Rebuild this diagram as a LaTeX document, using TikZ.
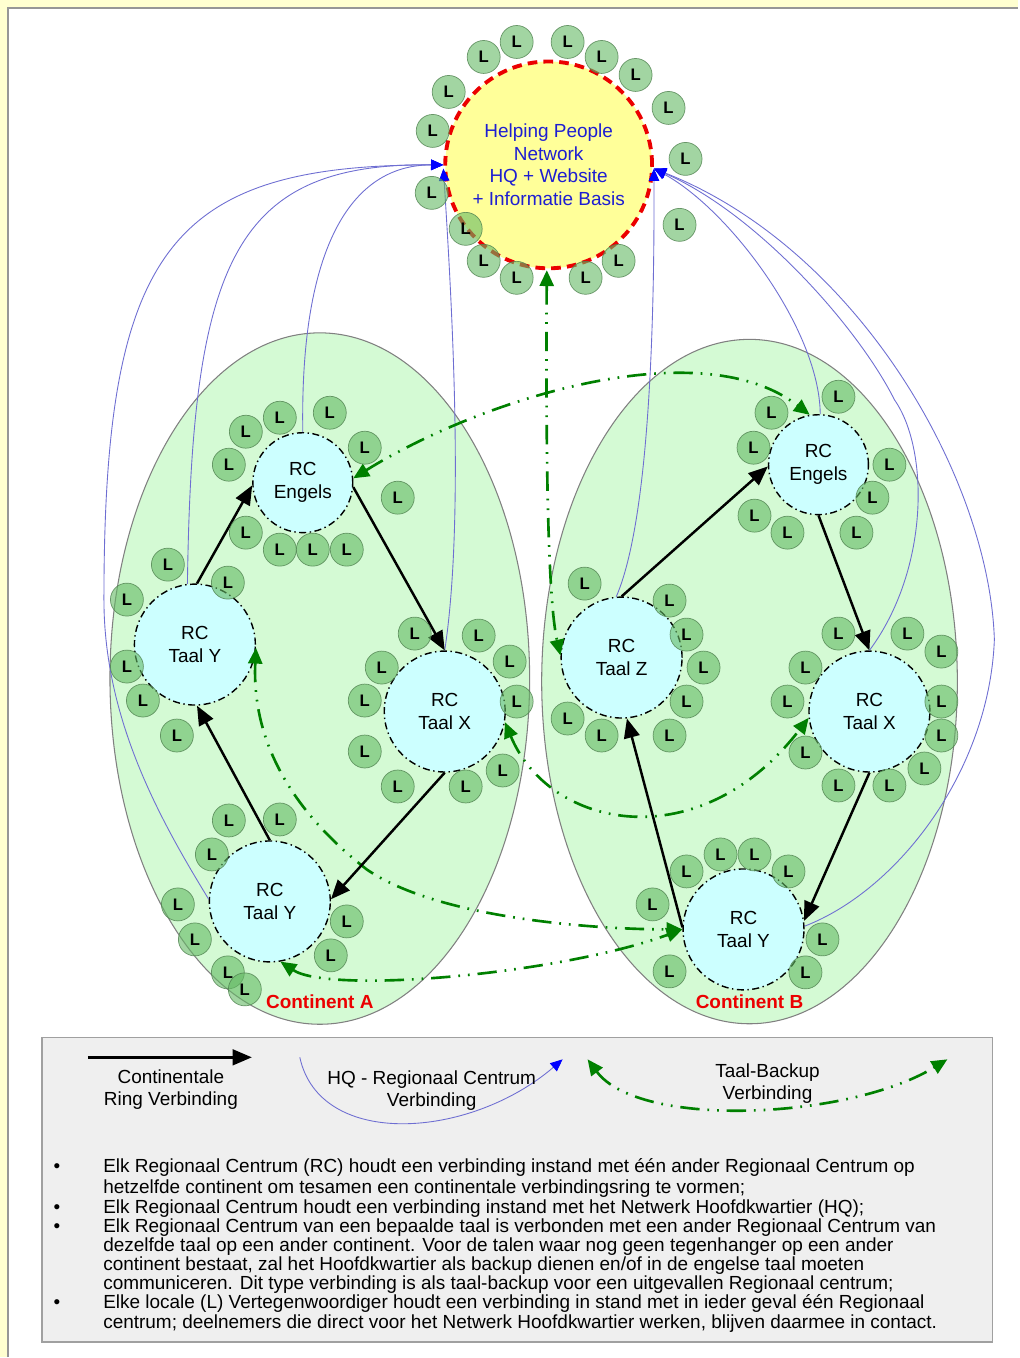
\documentclass[tikz,border=0pt]{standalone}
\usepackage{fontspec}
\setmainfont{Liberation Sans}
\usetikzlibrary{arrows.meta,shapes.geometric}

\definecolor{page_yellow}{RGB}{255,255,208}
\definecolor{frame_gray}{RGB}{150,150,150}
\definecolor{cont_fill}{RGB}{212,250,212}
\definecolor{cont_border}{RGB}{128,128,128}
\definecolor{l_green}{RGB}{100,185,100}
\definecolor{l_border}{RGB}{80,130,80}
\definecolor{rc_cyan}{RGB}{204,255,255}
\definecolor{hq_yellow}{RGB}{255,255,153}
\definecolor{hq_red}{RGB}{235,0,0}
\definecolor{hq_text_blue}{RGB}{30,30,210}
\definecolor{hq_line_blue}{RGB}{110,110,210}
\definecolor{arrow_blue}{RGB}{0,0,255}
\definecolor{backup_green}{RGB}{0,128,0}
\definecolor{legend_fill}{RGB}{239,239,239}
\definecolor{legend_border}{RGB}{160,160,160}

\tikzset{local_node/.style={circle, inner sep=0pt, minimum size=0.66cm, fill=l_green, fill opacity=0.6, draw=l_border, draw opacity=0.8, text opacity=1, font=\fontsize{9.5}{10}\selectfont\bfseries}}
\tikzset{rc_node/.style={circle, inner sep=0pt, minimum size=2.42cm, fill=rc_cyan, draw=black, line width=0.8pt, dash pattern=on 4pt off 2pt on 0.8pt off 2pt, align=center, font=\fontsize{10.8}{13}\selectfont}}
\tikzset{hq_node/.style={circle, inner sep=0pt, minimum size=4.14cm, fill=hq_yellow, draw=hq_red, line width=2.2pt, dash pattern=on 5.5pt off 3.5pt, align=center, text=hq_text_blue, font=\fontsize{10.8}{12.9}\selectfont}}
\tikzset{continent/.style={ellipse, inner sep=0pt, fill=cont_fill, draw=cont_border, line width=0.6pt}}
\tikzset{continent_label/.style={text=hq_red, font=\fontsize{10.8}{13}\selectfont\bfseries}}
\tikzset{ring_edge/.style={draw=black, line width=1.4pt, -{Triangle[length=11pt,width=9pt]}}}
\tikzset{hq_edge/.style={draw=hq_line_blue, line width=0.5pt, -{Triangle[length=7pt,width=6pt,color=arrow_blue]}}}
\tikzset{backup_edge/.style={draw=backup_green, line width=1.5pt, dash pattern=on 11pt off 4.5pt on 1pt off 4.5pt on 1pt off 4.5pt, {Triangle[length=9pt,width=8pt]}-{Triangle[length=9pt,width=8pt]}}}
\tikzset{legend_box/.style={fill=legend_fill, draw=legend_border, line width=0.8pt}}
\tikzset{legend_text/.style={align=center, font=\fontsize{10.8}{12.5}\selectfont}}
\tikzset{note_text/.style={anchor=base west, inner sep=0pt, font=\fontsize{10.8}{11}\selectfont}}
\tikzset{note_bullet/.style={anchor=base, inner sep=0pt, font=\fontsize{10.8}{11}\selectfont}}

\begin{document}
\begin{tikzpicture}[x=0.02cm, y=-0.02cm]
    % page
    \fill[page_yellow] (0,0) rectangle (1019,1358);
    \fill[white] (8,8) rectangle (1019,1358);
    \draw[frame_gray, line width=1pt] (8,1358) -- (8,8) -- (1019,8);

    % continents
    \node[continent, minimum width=8.4cm, minimum height=13.84cm] (cont_a) at (320,679) {};
    \node[continent, minimum width=8.32cm, minimum height=13.7cm] (cont_b) at (750,682) {};
    \node[continent_label] (label_a) at (320,1002) {Continent A};
    \node[continent_label] (label_b) at (750,1002) {Continent B};

    % headquarters and regional centres
    \node[hq_node] (hq) at (549,165) {Helping People\\Network\\HQ + Website\\+ Informatie Basis};
    \node[rc_node, minimum size=2cm] (a_eng) at (303,483) {RC\\Engels};
    \node[rc_node] (a_y1) at (195,645) {RC\\Taal Y};
    \node[rc_node] (a_x) at (445,712) {RC\\Taal X};
    \node[rc_node] (a_y2) at (270,902) {RC\\Taal Y};
    \node[rc_node, minimum size=2cm] (b_eng) at (819,465) {RC\\Engels};
    \node[rc_node] (b_z) at (622,658) {RC\\Taal Z};
    \node[rc_node] (b_x) at (870,712) {RC\\Taal X};
    \node[rc_node] (b_y) at (744,930) {RC\\Taal Y};

    % HQ - RC
    \draw[hq_edge] (a_y2.178) .. controls (160,820) and (104,720) .. (104,600) .. controls (104,250) and (170,165) .. (hq.180);
    \draw[hq_edge] (a_y1.97) .. controls (192,260) and (235,163) .. (hq.180);
    \draw[hq_edge] (a_eng.north) .. controls (300,250) and (350,165) .. (hq.180);
    \draw[hq_edge] (a_x.north) .. controls (465,520) and (452,300) .. (hq.182);
    \draw[hq_edge] (b_z.95) .. controls (650,520) and (655,320) .. (hq.-2);
    \draw[hq_edge] (b_eng.88) .. controls (820,330) and (730,210) .. (hq.-2);
    \draw[hq_edge] (b_x.north) .. controls (930,570) and (930,450) .. (895,400) .. controls (860,330) and (760,215) .. (hq.-2);
    \draw[hq_edge] (b_y.3) .. controls (900,890) and (990,770) .. (995,640) .. controls (990,480) and (860,250) .. (hq.-2);

    % language backup
    \draw[backup_edge] (a_eng.5) .. controls (480,400) and (700,330) .. (b_eng.100);
    \draw[backup_edge] (hq.-91) .. controls (546,450) and (548,600) .. (b_z.178);
    \draw[backup_edge] (a_y1.-3) .. controls (252,740) and (290,810) .. (367,870) .. controls (440,920) and (600,930) .. (b_y.180);
    \draw[backup_edge] (a_y2.-80) .. controls (330,995) and (560,975) .. (b_y.180);
    \draw[backup_edge] (a_x.-10) .. controls (550,830) and (700,860) .. (b_x.186);

    % continental rings
    \draw[ring_edge] (a_y1.88) -- (a_eng.183);
    \draw[ring_edge] (a_eng.-5) -- (a_x.north);
    \draw[ring_edge] (a_x.south) -- (a_y2.2);
    \draw[ring_edge] (a_y2.north) -- (a_y1.-88);
    \draw[ring_edge] (b_z.north) -- (b_eng.182);
    \draw[ring_edge] (b_eng.south) -- (b_x.north);
    \draw[ring_edge] (b_x.south) -- (b_y.8);
    \draw[ring_edge] (b_y.178) -- (b_z.-85);

    % locals
    \foreach \lx/\ly [count=\i] in {484/57, 517/42, 568/42, 602/57, 636/75, 449/92, 669/108, 433/131,
        686/159, 432/193, 680/225, 466/229, 484/261, 517/278, 586/278, 619/261}
        \node[local_node] (lhq\i) at (\lx,\ly) {L};
    \foreach \lx/\ly [count=\i] in {246/432, 280/418, 330/413, 229/465, 365/448, 398/498, 246/533, 280/550, 313/550, 347/550,
        168/565, 228/583, 127/600, 127/667, 143/701, 177/736,
        415/634, 479/636, 510/662, 382/668, 365/701, 517/702, 365/752, 503/771, 398/787, 466/787,
        229/821, 280/820, 212/855, 178/905, 195/940, 228/973, 245/990, 347/922, 331/956}
        \node[local_node] (la\i) at (\lx,\ly) {L};
    \foreach \lx/\ly [count=\i] in {839/397, 772/413, 754/448, 890/465, 873/498, 755/516, 788/533, 857/533,
        585/584, 670/601, 687/635, 704/668, 687/702, 568/719, 602/736, 670/736,
        839/634, 908/634, 942/652, 806/668, 788/702, 942/702, 942/736, 806/753, 925/769, 839/786, 890/786,
        687/872, 721/855, 755/855, 789/872, 653/905, 823/940, 670/972, 806/973}
        \node[local_node] (lb\i) at (\lx,\ly) {L};

    % legend
    \draw[legend_box] (42,1038) rectangle (993,1343);
    \coordinate (ring_from) at (88,1058);
    \coordinate (ring_to) at (252,1058);
    \draw[ring_edge] (ring_from) -- (ring_to);
    \node[legend_text] (ring_text) at (171,1090) {Continentale\\Ring Verbinding};
    \coordinate (hq_from) at (300,1058);
    \coordinate (hq_to) at (563,1060);
    \draw[hq_edge] (hq_from) .. controls (320,1150) and (470,1140) .. (hq_to);
    \node[legend_text] (hq_text) at (432,1091) {HQ - Regionaal Centrum\\Verbinding};
    \coordinate (backup_from) at (588,1060);
    \coordinate (backup_to) at (948,1060);
    \draw[backup_edge] (backup_from) .. controls (640,1130) and (850,1120) .. (backup_to);
    \node[legend_text] (backup_text) at (768,1084) {Taal-Backup\\Verbinding};

    % notes
    \node[note_bullet] (dot1) at (57,1173) {\textbullet};
    \node[note_bullet] (dot2) at (57,1214) {\textbullet};
    \node[note_bullet] (dot3) at (57,1233) {\textbullet};
    \node[note_bullet] (dot4) at (57,1309) {\textbullet};
    \node[note_text] (note1) at (103,1173) {Elk Regionaal Centrum (RC) houdt een verbinding instand met één ander Regionaal Centrum op};
    \node[note_text] (note2) at (103,1194) {hetzelfde continent om tesamen een continentale verbindingsring te vormen;};
    \node[note_text] (note3) at (103,1214) {Elk Regionaal Centrum houdt een verbinding instand met het Netwerk Hoofdkwartier (HQ);};
    \node[note_text] (note4) at (103,1233) {Elk Regionaal Centrum van een bepaalde taal is verbonden met een ander Regionaal Centrum van};
    \node[note_text] (note5) at (103,1252) {dezelfde taal op een ander continent. Voor de talen waar nog geen tegenhanger op een ander};
    \node[note_text] (note6) at (103,1271) {continent bestaat, zal het Hoofdkwartier als backup dienen en/of in de engelse taal moeten};
    \node[note_text] (note7) at (103,1290) {communiceren. Dit type verbinding is als taal-backup voor een uitgevallen Regionaal centrum;};
    \node[note_text] (note8) at (103,1309) {Elke locale (L) Vertegenwoordiger houdt een verbinding in stand met in ieder geval één Regionaal};
    \node[note_text] (note9) at (103,1329) {centrum; deelnemers die direct voor het Netwerk Hoofdkwartier werken, blijven daarmee in contact.};
\end{tikzpicture}
\end{document}
